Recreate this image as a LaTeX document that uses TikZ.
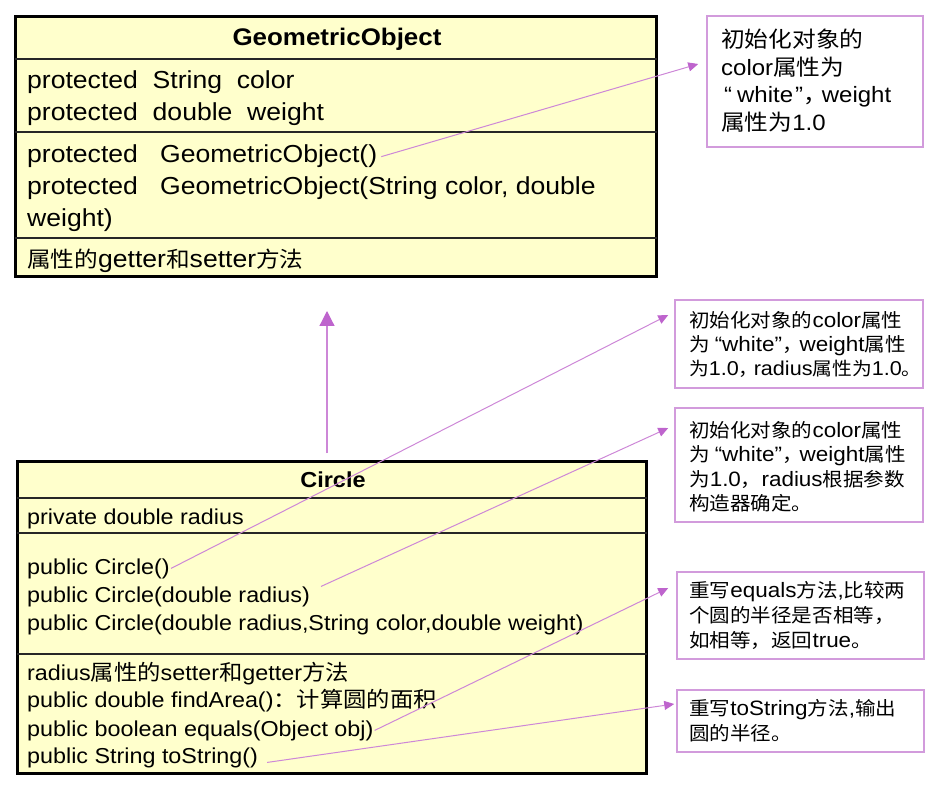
\documentclass[tikz,border=0pt]{standalone}
\usepackage{fontspec}
\setmainfont{Liberation Sans}[FakeStretch=1.08]
\newfontfamily\cjk{Noto Sans CJK SC}[Scale=0.915,FakeStretch=1.08]
\newfontfamily\cjkb{Noto Sans CJK SC}[Scale=0.99,FakeStretch=1.08]
\newfontfamily\cjkg{Noto Sans CJK SC}[Scale=0.89,FakeStretch=1.08]
\newfontfamily\cjkc{Noto Sans CJK SC}[Scale=1.0,FakeStretch=1.08]
\newcommand\zh[1]{{\cjk #1}}
\newcommand\zb[1]{{\cjkb #1}}
\newcommand\zg[1]{{\cjkg #1}}
\newcommand\zc[1]{{\cjkc #1}}
\newcommand\fsz[1]{\fontsize{#1}{#1}\selectfont}
\usetikzlibrary{arrows.meta,fit}
\definecolor{umlfill}{RGB}{255,255,204}
\definecolor{arrowc}{RGB}{190,100,205}
\definecolor{arrowl}{RGB}{205,135,215}
\definecolor{notec}{RGB}{210,155,220}
\begin{document}
\begin{tikzpicture}[x=1pt,y=-1pt,
 umlbox/.style={draw=black, line width=3pt, fill=umlfill, inner sep=0pt},
 divider/.style={draw=black!85, line width=1.8pt},
 notebox/.style={draw=notec, line width=1.5pt, inner sep=0pt},
 geotxt/.style={anchor=base west, inner sep=1pt, font=\fsz{24.6}},
 geotitle/.style={anchor=base, inner sep=1pt, font=\bfseries\fsz{24}},
 circtxt/.style={anchor=base west, inner sep=1pt, font=\fsz{21.6}},
 circtitle/.style={anchor=base, inner sep=1pt, font=\bfseries\fsz{21.7}},
 notetxt/.style={anchor=base west, inner sep=1pt, font=\fsz{20.8}},
 notetxtA/.style={anchor=base west, inner sep=1pt, font=\fsz{22.2}},
 callout/.style={draw=arrowl, line width=1pt, -{Triangle[length=10pt,width=9pt,color=arrowc]}},
 inherit/.style={draw=arrowl, line width=1.2pt, -{Triangle[length=15pt,width=15pt,color=arrowc]}},
]
\useasboundingbox (0,0) rectangle (929,786);

% ---- GeometricObject ----
\node[umlbox, fit={(15.5,16.5) (656.5,276.5)}] (geo) {};
\draw[divider] (15,59) -- (657,59);
\draw[divider] (15,132) -- (657,132);
\draw[divider] (15,238) -- (657,238);
\node[geotitle] (gt) at (337,46) {GeometricObject};
\node[geotxt] (ga1) at (26,89) {protected\ \ String\ \ color};
\node[geotxt] (ga2) at (26,121) {protected\ \ double\ \ weight};
\node[geotxt] (gm1) at (26,163) {protected\ \ \ GeometricObject()};
\node[geotxt] (gm2) at (26,195) {protected\ \ \ GeometricObject(String color, double};
\node[geotxt] (gm3) at (26,227) {weight)};
\node[geotxt] (gm4) at (26,268) {\zg{属性的}getter\zg{和}setter\zg{方法}};

% ---- Circle ----
\node[umlbox, fit={(17.5,461.5) (646.5,773.5)}] (circ) {};
\draw[divider] (17,498) -- (647,498);
\draw[divider] (17,533) -- (647,533);
\draw[divider] (17,654) -- (647,654);
\node[circtitle] (ct) at (333,487) {Circle};
\node[circtxt] (ca1) at (26,524) {private double radius};
\node[circtxt] (cc1) at (26,574) {public Circle()};
\node[circtxt] (cc2) at (26,602) {public Circle(double radius)};
\node[circtxt] (cc3) at (26,630) {public Circle(double radius,String color,double weight)};
\node[circtxt] (cm1) at (26,680) {radius\zc{属性的}setter\zc{和}getter\zc{方法}};
\node[circtxt] (cm2) at (26,707) {public double findArea()\zc{：计算圆的面积}};
\node[circtxt] (cm3) at (26,736) {public boolean equals(Object obj)};
\node[circtxt] (cm4) at (26,763) {public String toString()};

% ---- notes ----
\node[notebox, fit={(707,16) (923,147)}] (n1) {};
\node[notetxtA] (n1a) at (720,48) {\zb{初始化对象的}};
\node[notetxtA] (n1b) at (720,76) {color\zb{属性为}};
\node[notetxtA] (n1c) at (720,103) {\kern3pt“\kern5pt white\kern2pt”\zb{，}\kern-5pt weight};
\node[notetxtA] (n1d) at (720,131) {\zb{属性为}1.0};

\node[notebox, fit={(675,300) (923,388)}] (n2) {};
\node[notetxt] (n2a) at (688,327) {\zh{初始化对象的}color\zh{属性}};
\node[notetxt] (n2b) at (688,351) {\zh{为}\kern5pt“white”\zh{，}\kern-3pt weight\zh{属性}};
\node[notetxt, font=\fsz{20}] (n2c) at (688,375) {\zh{为}1.0\zh{，}\kern-5pt radius\zh{属性为}1.0\zh{\rlap{。}}};

\node[notebox, fit={(675,408) (923,522)}] (n3) {};
\node[notetxt] (n3a) at (688,437) {\zh{初始化对象的}color\zh{属性}};
\node[notetxt] (n3b) at (688,461) {\zh{为}\kern5pt“white”\zh{，}\kern-3pt weight\zh{属性}};
\node[notetxt] (n3c) at (688,486) {\zh{为}1.0\zh{，}radius\zh{根据参数}};
\node[notetxt] (n3d) at (688,510) {\zh{构造器确定。}};

\node[notebox, fit={(677,572) (924,659)}] (n4) {};
\node[notetxt] (n4a) at (688,597) {\zh{重写}equals\zh{方法},\zh{比较两}};
\node[notetxt] (n4b) at (688,622) {\zh{个圆的半径是否相等，}};
\node[notetxt] (n4c) at (688,647) {\zh{如相等，返回}true\zh{。}};

\node[notebox, fit={(677,690) (924,752)}] (n5) {};
\node[notetxt] (n5a) at (688,715) {\zh{重写}toString\zh{方法},\zh{输出}};
\node[notetxt] (n5b) at (688,740) {\zh{圆的半径。}};

% ---- connectors ----
\draw[inherit] ([xshift=-5pt,yshift=7pt]circ.north) -- ([xshift=-9pt,yshift=-33pt]geo.south);
\draw[callout] ([xshift=3pt]gm1.east) -- ([xshift=-8pt,yshift=17.5pt]n1.west);
\draw[callout] (cc1.east) -- ([xshift=-6pt,yshift=29pt]n2.west);
\draw[callout] ([xshift=10pt,yshift=10pt]cc2.east) -- ([xshift=-6pt,yshift=37pt]n3.west);
\draw[callout] (cm3.east) -- ([xshift=-8pt,yshift=27.5pt]n4.west);
\draw[callout] ([xshift=8pt,yshift=-5pt]cm4.east) -- ([xshift=-2pt,yshift=17pt]n5.west);
\end{tikzpicture}
\end{document}
